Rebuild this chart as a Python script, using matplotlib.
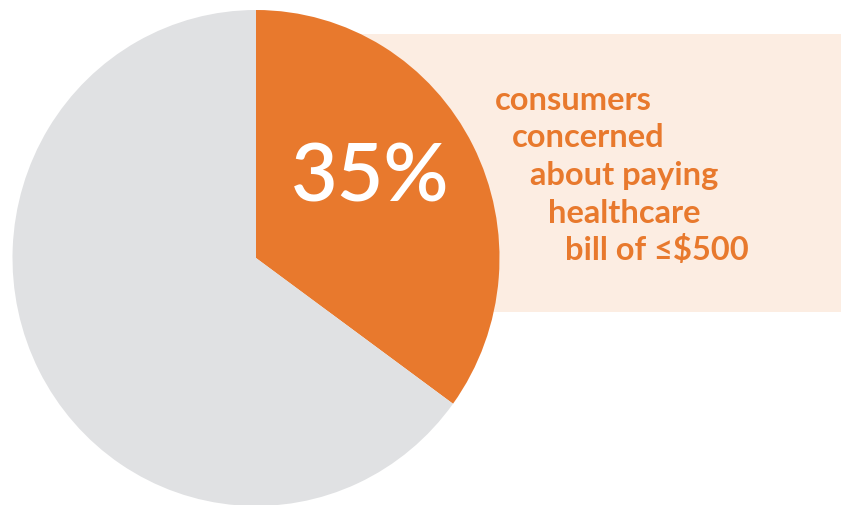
import matplotlib
matplotlib.use("Agg")
import matplotlib.pyplot as plt
from matplotlib.patches import Rectangle

W, H = 841, 506

share_labels = ["concerned", "not concerned"]
share_values = [35, 65]
share_colors = ["#E8792D", "#E0E1E3"]

headline = "35%"
caption_lines = ["consumers", "concerned", "about paying", "healthcare", "bill of \u2264$500"]

ORANGE = "#E8792D"
PEACH = "#FCEDE2"

fig = plt.figure(figsize=(W / 100, H / 100), dpi=100)
fig.patch.set_facecolor("white")

# backdrop panel behind the caption, in pixel units
bg = fig.add_axes([0, 0, 1, 1], zorder=0)
bg.set_xlim(0, W)
bg.set_ylim(H, 0)
bg.axis("off")
bg.add_patch(Rectangle((256, 35), W - 256, 278, facecolor=PEACH, edgecolor="none"))

# pie, slightly taller than wide
cx, cy, rx, ry = 256, 259, 243.5, 248
pie_ax = fig.add_axes([(cx - rx) / W, 1 - (cy + ry) / H, 2 * rx / W, 2 * ry / H], zorder=1)
pie_ax.pie(share_values, colors=share_colors, startangle=90, counterclock=False,
           wedgeprops=dict(linewidth=0))
pie_ax.set_aspect("auto")
pie_ax.set_xlim(-1, 1)
pie_ax.set_ylim(-1, 1)
pie_ax.axis("off")


def px(x, y):
    return x / W, 1 - y / H


fig.text(*px(370, 202), headline, color="white", fontsize=58, fontweight="semibold",
         family=["Lato", "DejaVu Sans"], ha="center", va="baseline", zorder=3)

line_x = [495, 512, 530, 548, 565]
line_y = [110, 147, 185, 223, 260]
for txt, x, y in zip(caption_lines, line_x, line_y):
    fig.text(*px(x, y), txt, color=ORANGE, fontsize=23.5, fontweight="bold",
             family=["Lato", "DejaVu Sans"], ha="left", va="baseline", zorder=3)

fig.savefig("out.png", dpi=100, facecolor="white")
